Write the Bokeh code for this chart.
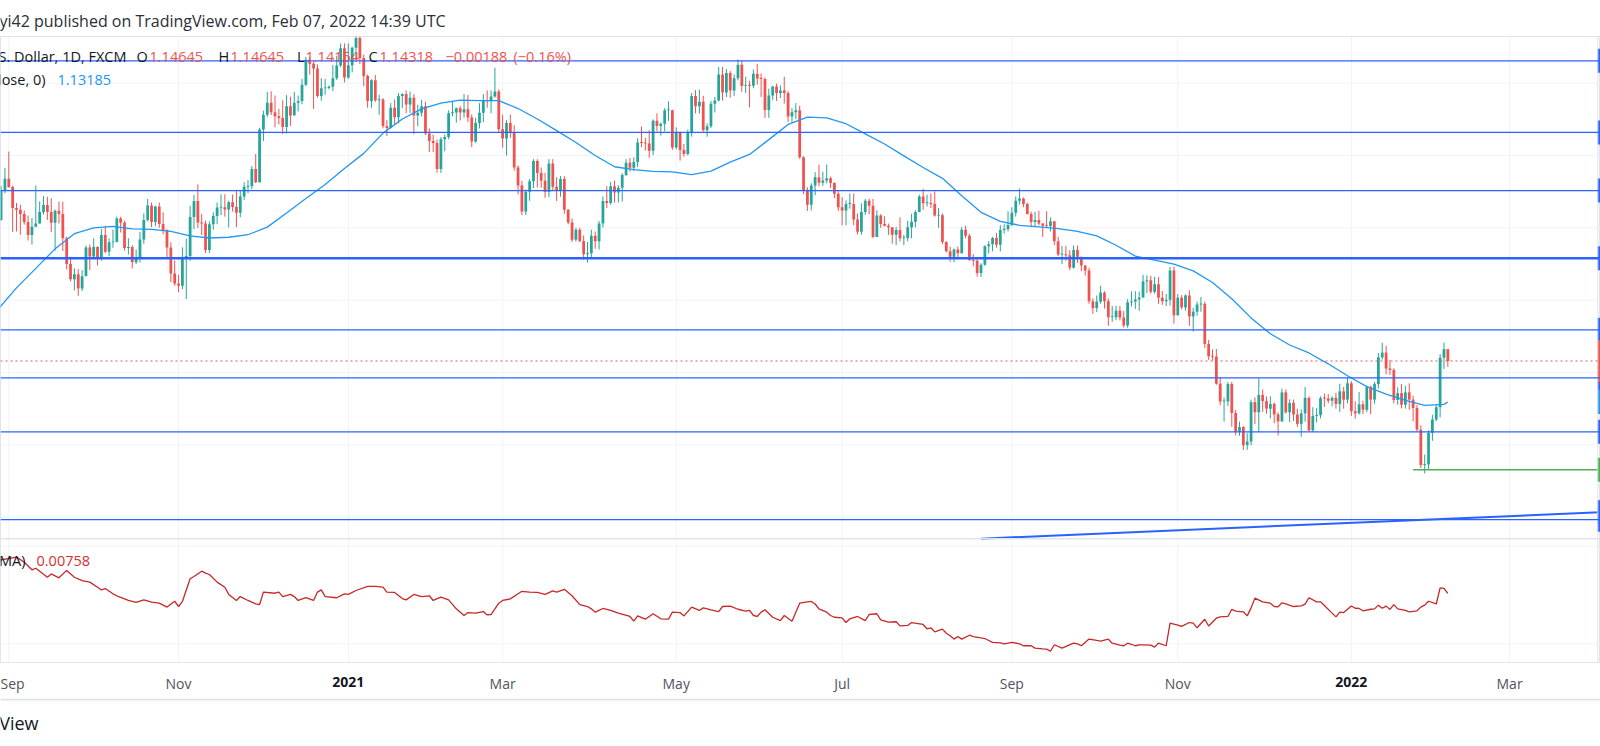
import pandas as pd
from bokeh.plotting import figure
from bokeh.models import Range1d, LinearAxis, FixedTicker, Span, Label, ColumnDataSource
from bokeh.layouts import column
from bokeh.embed import file_html
from bokeh.resources import INLINE

FONT = "Open Sans"

# ---------------- data (EUR/USD daily, FXCM) ----------------
first_date = "2020-08-27"
last_date = "2022-02-07"
missing_days = ["2021-01-01"]     # no bar on this weekday
first_open = 1.1825

close = [
    # 2020-08
    1.1822, 1.1904, 1.1936,
    # 2020-09
    1.1913, 1.1855, 1.1850, 1.1838, 1.1816, 1.1780, 1.1803, 1.1812, 1.1844, 1.1863, 1.1844,
    1.1814, 1.1847, 1.1838, 1.1771, 1.1700, 1.1658, 1.1672, 1.1632, 1.1666, 1.1746, 1.1721,
    # 2020-10
    1.1747, 1.1715, 1.1780, 1.1734, 1.1760, 1.1761, 1.1826, 1.1814, 1.1744, 1.1747, 1.1705,
    1.1718, 1.1768, 1.1822, 1.1862, 1.1816, 1.1859, 1.1811, 1.1794, 1.1746, 1.1674, 1.1646,
    # 2020-11
    1.1640, 1.1715, 1.1722, 1.1830, 1.1874, 1.1815, 1.1812, 1.1739, 1.1810, 1.1833, 1.1856,
    1.1857, 1.1851, 1.1871, 1.1858, 1.1842, 1.1887, 1.1914, 1.1915, 1.1963, 1.1926,
    # 2020-12
    1.2072, 1.2113, 1.2146, 1.2120, 1.2109, 1.2104, 1.2079, 1.2136, 1.2111, 1.2146, 1.2151,
    1.2196, 1.2265, 1.2254, 1.2241, 1.2165, 1.2186, 1.2187, 1.2190, 1.2214, 1.2249, 1.2297, 1.2216,
    # 2021-01
    1.2250, 1.2298, 1.2325, 1.2270, 1.2220, 1.2151, 1.2208, 1.2153, 1.2155, 1.2082,
    1.2076, 1.2132, 1.2106, 1.2165, 1.2170, 1.2141, 1.2160, 1.2111, 1.2118, 1.2136,
    # 2021-02
    1.2061, 1.2040, 1.2035, 1.1963, 1.2045, 1.2051, 1.2117, 1.2119, 1.2131, 1.2119,
    1.2128, 1.2105, 1.2039, 1.2090, 1.2118, 1.2153, 1.2150, 1.2163, 1.2177, 1.2073,
    # 2021-03
    1.2047, 1.2090, 1.2064, 1.1967, 1.1917, 1.1845, 1.1900, 1.1929, 1.1985, 1.1952, 1.1930,
    1.1899, 1.1978, 1.1914, 1.1904, 1.1935, 1.1850, 1.1815, 1.1767, 1.1795, 1.1764, 1.1727, 1.1730,
    # 2021-04
    1.1778, 1.1763, 1.1812, 1.1874, 1.1869, 1.1915, 1.1898, 1.1911, 1.1946, 1.1980, 1.1966,
    1.1982, 1.2036, 1.2035, 1.2033, 1.2013, 1.2096, 1.2082, 1.2088, 1.2125, 1.2125, 1.2022,
    # 2021-05
    1.2062, 1.2015, 1.2004, 1.2064, 1.2165, 1.2136, 1.2149, 1.2070, 1.2081, 1.2143, 1.2152,
    1.2224, 1.2174, 1.2228, 1.2180, 1.2214, 1.2251, 1.2192, 1.2194, 1.2193, 1.2226,
    # 2021-06
    1.2213, 1.2212, 1.2126, 1.2166, 1.2191, 1.2173, 1.2180, 1.2173, 1.2108, 1.2120, 1.2125,
    1.1995, 1.1905, 1.1864, 1.1917, 1.1940, 1.1925, 1.1931, 1.1937, 1.1924, 1.1894, 1.1857,
    # 2021-07
    1.1848, 1.1866, 1.1866, 1.1823, 1.1789, 1.1844, 1.1875, 1.1861, 1.1775, 1.1834, 1.1811,
    1.1806, 1.1802, 1.1781, 1.1794, 1.1771, 1.1772, 1.1802, 1.1817, 1.1844, 1.1887, 1.1868,
    # 2021-08
    1.1869, 1.1866, 1.1834, 1.1835, 1.1761, 1.1735, 1.1720, 1.1740, 1.1730, 1.1795, 1.1778,
    1.1711, 1.1709, 1.1675, 1.1698, 1.1749, 1.1755, 1.1772, 1.1753, 1.1794, 1.1797, 1.1808,
    # 2021-09
    1.1842, 1.1875, 1.1881, 1.1866, 1.1838, 1.1816, 1.1822, 1.1812, 1.1806, 1.1805, 1.1818,
    1.1763, 1.1726, 1.1727, 1.1724, 1.1690, 1.1739, 1.1720, 1.1696, 1.1682, 1.1597, 1.1578,
    # 2021-10
    1.1596, 1.1621, 1.1597, 1.1553, 1.1553, 1.1571, 1.1552, 1.1530, 1.1594, 1.1596, 1.1602,
    1.1607, 1.1652, 1.1655, 1.1623, 1.1644, 1.1607, 1.1597, 1.1601, 1.1682, 1.1558,
    # 2021-11
    1.1607, 1.1580, 1.1613, 1.1555, 1.1568, 1.1588, 1.1590, 1.1479, 1.1445, 1.1444, 1.1369,
    1.1320, 1.1320, 1.1368, 1.1288, 1.1236, 1.1249, 1.1199, 1.1209, 1.1318, 1.1290, 1.1338,
    # 2021-12
    1.1321, 1.1300, 1.1313, 1.1284, 1.1265, 1.1345, 1.1290, 1.1316, 1.1284, 1.1258, 1.1287,
    1.1330, 1.1240, 1.1280, 1.1282, 1.1329, 1.1328, 1.1322, 1.1330, 1.1313, 1.1348, 1.1325, 1.1370,
    # 2022-01
    1.1293, 1.1287, 1.1312, 1.1297, 1.1360, 1.1325, 1.1368, 1.1442, 1.1455, 1.1411, 1.1407,
    1.1324, 1.1343, 1.1311, 1.1345, 1.1325, 1.1302, 1.1242, 1.1144, 1.1146, 1.1233,
    # 2022-02
    1.1270, 1.1304, 1.1441, 1.14645, 1.14318,
]

high = [
    # 2020-08
    1.1902, 1.1916, 1.1966,
    # 2020-09
    1.2011, 1.1917, 1.1869, 1.1864, 1.1848, 1.1834, 1.1827, 1.1917, 1.1873, 1.1888, 1.1886,
    1.1882, 1.1851, 1.1873, 1.1872, 1.1776, 1.1720, 1.1688, 1.1686, 1.1683, 1.1751, 1.1754,
    # 2020-10
    1.1771, 1.1749, 1.1797, 1.1806, 1.1771, 1.1795, 1.1831, 1.1831, 1.1820, 1.1771, 1.1752,
    1.1740, 1.1789, 1.1840, 1.1880, 1.1870, 1.1861, 1.1870, 1.1843, 1.1796, 1.1760, 1.1710,
    # 2020-11
    1.1670, 1.1746, 1.1770, 1.1861, 1.1891, 1.1920, 1.1838, 1.1820, 1.1818, 1.1843, 1.1870,
    1.1893, 1.1893, 1.1875, 1.1892, 1.1905, 1.1903, 1.1926, 1.1932, 1.1971, 1.2004,
    # 2020-12
    1.2077, 1.2124, 1.2176, 1.2178, 1.2166, 1.2129, 1.2153, 1.2167, 1.2163, 1.2176, 1.2166,
    1.2212, 1.2273, 1.2273, 1.2259, 1.2252, 1.2214, 1.2212, 1.2194, 1.2250, 1.2276, 1.2310, 1.2310,
    # 2021-01
    1.2310, 1.2301, 1.2349, 1.2340, 1.2279, 1.2224, 1.2211, 1.2223, 1.2168, 1.2159,
    1.2098, 1.2145, 1.2155, 1.2173, 1.2172, 1.2180, 1.2177, 1.2170, 1.2140, 1.2154,
    # 2021-02
    1.2149, 1.2075, 1.2058, 1.2044, 1.2051, 1.2058, 1.2125, 1.2150, 1.2133, 1.2137,
    1.2170, 1.2168, 1.2114, 1.2104, 1.2145, 1.2170, 1.2180, 1.2180, 1.2243, 1.2183,
    # 2021-03
    1.2113, 1.2098, 1.2113, 1.2084, 1.1973, 1.1930, 1.1906, 1.1935, 1.1990, 1.1990, 1.1967,
    1.1952, 1.1990, 1.1990, 1.1940, 1.1943, 1.1943, 1.1852, 1.1826, 1.1800, 1.1800, 1.1779, 1.1761,
    # 2021-04
    1.1795, 1.1790, 1.1819, 1.1887, 1.1915, 1.1927, 1.1931, 1.1918, 1.1951, 1.1990, 1.1993,
    1.1995, 1.2048, 1.2080, 1.2049, 1.2070, 1.2100, 1.2117, 1.2091, 1.2131, 1.2150, 1.2127,
    # 2021-05
    1.2078, 1.2066, 1.2032, 1.2072, 1.2173, 1.2181, 1.2182, 1.2165, 1.2089, 1.2151, 1.2162,
    1.2245, 1.2245, 1.2239, 1.2234, 1.2224, 1.2266, 1.2262, 1.2218, 1.2207, 1.2238,
    # 2021-06
    1.2254, 1.2227, 1.2216, 1.2185, 1.2193, 1.2199, 1.2194, 1.2218, 1.2178, 1.2131, 1.2145,
    1.2138, 1.1998, 1.1912, 1.1923, 1.1954, 1.1975, 1.1955, 1.1975, 1.1942, 1.1926, 1.1903,
    # 2021-07
    1.1885, 1.1876, 1.1895, 1.1895, 1.1840, 1.1868, 1.1880, 1.1880, 1.1880, 1.1849, 1.1838,
    1.1832, 1.1812, 1.1802, 1.1803, 1.1829, 1.1781, 1.1820, 1.1839, 1.1849, 1.1892, 1.1908,
    # 2021-08
    1.1892, 1.1895, 1.1901, 1.1855, 1.1840, 1.1763, 1.1748, 1.1743, 1.1748, 1.1802, 1.1806,
    1.1783, 1.1727, 1.1715, 1.1702, 1.1752, 1.1763, 1.1775, 1.1786, 1.1808, 1.1810, 1.1846,
    # 2021-09
    1.1857, 1.1887, 1.1909, 1.1884, 1.1870, 1.1845, 1.1844, 1.1847, 1.1813, 1.1846, 1.1829,
    1.1818, 1.1775, 1.1750, 1.1750, 1.1738, 1.1751, 1.1751, 1.1720, 1.1697, 1.1690, 1.1605,
    # 2021-10
    1.1613, 1.1640, 1.1625, 1.1605, 1.1584, 1.1584, 1.1584, 1.1570, 1.1603, 1.1624, 1.1625,
    1.1624, 1.1670, 1.1669, 1.1667, 1.1665, 1.1664, 1.1625, 1.1617, 1.1692, 1.1693,
    # 2021-11
    1.1617, 1.1614, 1.1616, 1.1627, 1.1579, 1.1596, 1.1609, 1.1596, 1.1490, 1.1464, 1.1465,
    1.1387, 1.1331, 1.1374, 1.1374, 1.1296, 1.1264, 1.1252, 1.1232, 1.1325, 1.1331, 1.1383,
    # 2021-12
    1.1353, 1.1334, 1.1334, 1.1317, 1.1290, 1.1355, 1.1353, 1.1326, 1.1325, 1.1300, 1.1298,
    1.1360, 1.1334, 1.1304, 1.1302, 1.1334, 1.1342, 1.1340, 1.1334, 1.1344, 1.1369, 1.1360, 1.1386,
    # 2022-01
    1.1376, 1.1320, 1.1346, 1.1322, 1.1363, 1.1364, 1.1374, 1.1454, 1.1482, 1.1474, 1.1434,
    1.1412, 1.1359, 1.1368, 1.1363, 1.1370, 1.1336, 1.1310, 1.1254, 1.1173, 1.1240,
    # 2022-02
    1.1283, 1.1310, 1.1451, 1.1483, 1.14645,
]

low = [
    # 2020-08
    1.1762, 1.1820, 1.1896,
    # 2020-09
    1.1911, 1.1789, 1.1790, 1.1781, 1.1809, 1.1765, 1.1754, 1.1802, 1.1812, 1.1837, 1.1822,
    1.1788, 1.1737, 1.1812, 1.1736, 1.1685, 1.1652, 1.1627, 1.1612, 1.1625, 1.1667, 1.1683,
    # 2020-10
    1.1717, 1.1696, 1.1709, 1.1730, 1.1722, 1.1745, 1.1760, 1.1787, 1.1737, 1.1726, 1.1688,
    1.1700, 1.1704, 1.1756, 1.1818, 1.1802, 1.1804, 1.1800, 1.1782, 1.1717, 1.1650, 1.1640,
    # 2020-11
    1.1622, 1.1630, 1.1603, 1.1709, 1.1797, 1.1800, 1.1780, 1.1730, 1.1730, 1.1795, 1.1810,
    1.1835, 1.1831, 1.1801, 1.1845, 1.1802, 1.1829, 1.1877, 1.1896, 1.1907, 1.1924,
    # 2020-12
    1.1925, 1.2040, 1.2107, 1.2112, 1.2078, 1.2086, 1.2059, 1.2061, 1.2082, 1.2114, 1.2122,
    1.2142, 1.2192, 1.2224, 1.2129, 1.2160, 1.2152, 1.2168, 1.2183, 1.2178, 1.2209, 1.2244, 1.2202,
    # 2021-01
    1.2212, 1.2230, 1.2265, 1.2253, 1.2192, 1.2132, 1.2132, 1.2148, 1.2113, 1.2075,
    1.2054, 1.2075, 1.2085, 1.2089, 1.2131, 1.2117, 1.2118, 1.2059, 1.2081, 1.2108,
    # 2021-02
    1.2057, 1.2010, 1.2010, 1.1953, 1.1952, 1.2012, 1.2045, 1.2108, 1.2091, 1.2097,
    1.2105, 1.2093, 1.2023, 1.2035, 1.2075, 1.2092, 1.2132, 1.2117, 1.2160, 1.2062,
    # 2021-03
    1.2022, 1.2000, 1.2049, 1.1958, 1.1893, 1.1835, 1.1836, 1.1875, 1.1910, 1.1912, 1.1911,
    1.1883, 1.1885, 1.1905, 1.1874, 1.1886, 1.1839, 1.1810, 1.1761, 1.1762, 1.1760, 1.1712, 1.1704,
    # 2021-04
    1.1718, 1.1742, 1.1740, 1.1801, 1.1855, 1.1864, 1.1870, 1.1870, 1.1873, 1.1943, 1.1955,
    1.1957, 1.1968, 1.2023, 1.2014, 1.1994, 1.2001, 1.2067, 1.2055, 1.2067, 1.2096, 1.2016,
    # 2021-05
    1.2017, 1.1986, 1.1997, 1.2000, 1.2052, 1.2117, 1.2116, 1.2066, 1.2052, 1.2076, 1.2119,
    1.2150, 1.2152, 1.2162, 1.2160, 1.2165, 1.2208, 1.2176, 1.2173, 1.2133, 1.2186,
    # 2021-06
    1.2196, 1.2162, 1.2104, 1.2104, 1.2153, 1.2151, 1.2159, 1.2144, 1.2093, 1.2092, 1.2101,
    1.1991, 1.1893, 1.1847, 1.1848, 1.1890, 1.1915, 1.1916, 1.1923, 1.1910, 1.1882, 1.1847,
    # 2021-07
    1.1807, 1.1807, 1.1853, 1.1807, 1.1782, 1.1781, 1.1836, 1.1838, 1.1772, 1.1779, 1.1800,
    1.1804, 1.1780, 1.1756, 1.1752, 1.1762, 1.1752, 1.1763, 1.1771, 1.1801, 1.1843, 1.1850,
    # 2021-08
    1.1859, 1.1855, 1.1831, 1.1800, 1.1755, 1.1732, 1.1706, 1.1705, 1.1716, 1.1729, 1.1771,
    1.1709, 1.1694, 1.1665, 1.1664, 1.1695, 1.1729, 1.1735, 1.1745, 1.1735, 1.1784, 1.1790,
    # 2021-09
    1.1805, 1.1831, 1.1864, 1.1857, 1.1837, 1.1802, 1.1803, 1.1807, 1.1775, 1.1800, 1.1790,
    1.1752, 1.1722, 1.1700, 1.1709, 1.1683, 1.1687, 1.1703, 1.1680, 1.1668, 1.1590, 1.1562,
    # 2021-10
    1.1567, 1.1590, 1.1577, 1.1529, 1.1540, 1.1545, 1.1544, 1.1524, 1.1524, 1.1583, 1.1576,
    1.1571, 1.1609, 1.1619, 1.1618, 1.1618, 1.1590, 1.1587, 1.1584, 1.1585, 1.1535,
    # 2021-11
    1.1558, 1.1574, 1.1571, 1.1529, 1.1513, 1.1557, 1.1568, 1.1468, 1.1435, 1.1433, 1.1366,
    1.1309, 1.1264, 1.1307, 1.1250, 1.1226, 1.1225, 1.1186, 1.1186, 1.1199, 1.1257, 1.1235,
    # 2021-12
    1.1291, 1.1286, 1.1273, 1.1260, 1.1226, 1.1263, 1.1286, 1.1263, 1.1266, 1.1250, 1.1222,
    1.1264, 1.1236, 1.1235, 1.1262, 1.1273, 1.1305, 1.1315, 1.1306, 1.1300, 1.1291, 1.1300, 1.1315,
    # 2022-01
    1.1280, 1.1272, 1.1284, 1.1285, 1.1290, 1.1285, 1.1314, 1.1356, 1.1436, 1.1395, 1.1393,
    1.1315, 1.1311, 1.1301, 1.1300, 1.1297, 1.1265, 1.1236, 1.1136, 1.1121, 1.1132,
    # 2022-02
    1.1211, 1.1265, 1.1276, 1.1410, 1.14154,
]

# 50-period moving average, read every 5 bars starting 3 bars before 2020-09-01
ma_start_offset = -3
ma_step = 5
ma_values = [
    1.1572, 1.1634, 1.1688, 1.1742, 1.1784, 1.1800, 1.1804, 1.1797, 1.1796, 1.1790,
    1.1778, 1.1772, 1.1774, 1.1781, 1.1802, 1.1841, 1.1881, 1.1920, 1.1964, 1.2006,
    1.2062, 1.2101, 1.2129, 1.2145, 1.2153, 1.2152, 1.2152, 1.2130, 1.2101, 1.2069,
    1.2036, 1.2000, 1.1969, 1.1961, 1.1956, 1.1955, 1.1947, 1.1957, 1.1982, 1.2003,
    1.2044, 1.2086, 1.2106, 1.2104, 1.2088, 1.2060, 1.2032, 1.1999, 1.1967, 1.1937,
    1.1889, 1.1843, 1.1818, 1.1807, 1.1803, 1.1798, 1.1790, 1.1778, 1.1752, 1.1722,
    1.1711, 1.1700, 1.1681, 1.1649, 1.1604, 1.1551, 1.1507, 1.1476, 1.1454, 1.1424,
    1.1391, 1.1361, 1.1340, 1.1323, 1.1309, 1.1312,
]
ma_last = 1.13185

# ATR (14, RMA): bars counted from 2020-09-01, and values
atr_bars = [
    -3, -2, 2, 4, 6, 7, 10, 11, 13, 15, 17, 19, 21, 23, 24, 25, 27, 28, 30, 31, 33, 35, 37, 39,
    41, 43, 44, 45, 47, 48, 50, 51, 52, 54, 56, 57, 59, 60, 62, 64, 65, 66, 69, 70, 71, 73, 74,
    75, 77, 79, 80, 81, 82, 85, 87, 88, 90, 93, 95, 97, 98, 100, 102, 103, 105, 107, 109, 110,
    112, 114, 116, 118, 119, 121, 123, 124, 125, 127, 128, 130, 132, 133, 135, 137, 139, 141,
    142, 144, 146, 148, 150, 151, 152, 154, 156, 158, 161, 162, 163, 165, 167, 169, 171, 172,
    174, 175, 177, 179, 180, 182, 184, 185, 187, 189, 191, 192, 193, 194, 195, 196, 198, 200,
    201, 203, 205, 207, 208, 209, 210, 212, 213, 214, 216, 217, 218, 220, 222, 223, 225, 226,
    228, 230, 231, 233, 234, 237, 238, 239, 240, 242, 243, 244, 245, 246, 247, 249, 250, 252,
    253, 254, 255, 257, 258, 260, 262, 263, 265, 266, 268, 269, 270, 271, 273, 276, 277, 278,
    280, 282, 283, 285, 286, 288, 289, 290, 292, 293, 294, 296, 297, 298, 300, 301, 303, 304,
    306, 307, 308, 310, 311, 313, 314, 316, 317, 318, 320, 321, 322, 323, 325, 327, 328, 329,
    330, 331, 333, 335, 336, 337, 339, 340, 341, 343, 344, 345, 346, 348, 349, 350, 351, 353,
    354, 355, 356, 357, 358, 359, 360, 362, 363, 365, 366, 367, 368, 370, 371, 372, 373,
]
atr_values = [
    0.00925, 0.00930, 0.00944, 0.00918, 0.00879, 0.00887, 0.00841, 0.00858, 0.00838, 0.00876,
    0.00841, 0.00824, 0.00816, 0.00790, 0.00776, 0.00783, 0.00756, 0.00746, 0.00730, 0.00722,
    0.00712, 0.00725, 0.00713, 0.00708, 0.00688, 0.00718, 0.00691, 0.00717, 0.00833, 0.00845,
    0.00872, 0.00862, 0.00855, 0.00816, 0.00790, 0.00753, 0.00722, 0.00742, 0.00722, 0.00705,
    0.00701, 0.00765, 0.00759, 0.00765, 0.00742, 0.00753, 0.00742, 0.00722, 0.00736, 0.00722,
    0.00765, 0.00776, 0.00742, 0.00736, 0.00756, 0.00753, 0.00773, 0.00794, 0.00794, 0.00790,
    0.00765, 0.00763, 0.00732, 0.00725, 0.00753, 0.00742, 0.00746, 0.00722, 0.00739, 0.00725,
    0.00679, 0.00645, 0.00660, 0.00657, 0.00665, 0.00648, 0.00650, 0.00708, 0.00722, 0.00730,
    0.00756, 0.00769, 0.00765, 0.00763, 0.00753, 0.00771, 0.00765, 0.00779, 0.00746, 0.00701,
    0.00691, 0.00679, 0.00662, 0.00681, 0.00671, 0.00657, 0.00640, 0.00616, 0.00643, 0.00626,
    0.00654, 0.00628, 0.00626, 0.00662, 0.00660, 0.00643, 0.00688, 0.00671, 0.00684, 0.00674,
    0.00665, 0.00691, 0.00693, 0.00677, 0.00667, 0.00671, 0.00645, 0.00640, 0.00662, 0.00674,
    0.00636, 0.00619, 0.00645, 0.00616, 0.00708, 0.00715, 0.00717, 0.00704, 0.00679, 0.00662,
    0.00645, 0.00636, 0.00633, 0.00609, 0.00628, 0.00640, 0.00619, 0.00650, 0.00654, 0.00623,
    0.00611, 0.00613, 0.00592, 0.00594, 0.00609, 0.00599, 0.00577, 0.00582, 0.00561, 0.00575,
    0.00554, 0.00541, 0.00524, 0.00537, 0.00524, 0.00544, 0.00537, 0.00530, 0.00527, 0.00517,
    0.00507, 0.00505, 0.00500, 0.00507, 0.00500, 0.00490, 0.00490, 0.00478, 0.00474, 0.00473,
    0.00462, 0.00495, 0.00478, 0.00503, 0.00500, 0.00490, 0.00524, 0.00517, 0.00514, 0.00524,
    0.00503, 0.00493, 0.00490, 0.00503, 0.00490, 0.00495, 0.00495, 0.00493, 0.00483, 0.00503,
    0.00490, 0.00606, 0.00596, 0.00589, 0.00609, 0.00606, 0.00582, 0.00626, 0.00591, 0.00631,
    0.00638, 0.00640, 0.00677, 0.00667, 0.00664, 0.00643, 0.00684, 0.00734, 0.00715, 0.00708,
    0.00691, 0.00689, 0.00710, 0.00704, 0.00691, 0.00694, 0.00703, 0.00736, 0.00715, 0.00715,
    0.00696, 0.00657, 0.00638, 0.00662, 0.00660, 0.00694, 0.00682, 0.00681, 0.00669, 0.00677,
    0.00679, 0.00698, 0.00682, 0.00693, 0.00676, 0.00701, 0.00679, 0.00671, 0.00664, 0.00669,
    0.00688, 0.00698, 0.00718, 0.00704, 0.00787, 0.00784, 0.00758,
]

# drawings
h_levels = [1.2262, 1.2064, 1.1903, 1.1518, 1.1385, 1.1236, 1.0993]
h_level_bold = 1.1716
green_level = 1.1131
green_start = "2022-01-25"
trend_bars = [252, 413]          # bars counted from 2020-09-01
trend_prices = [1.09404, 1.10138]

price_grid = [1.10, 1.12, 1.14, 1.16, 1.18, 1.20, 1.22]
atr_grid = [0.005, 0.010]

tick_months = ["2020-09", "2020-11", "2021-01", "2021-03", "2021-05",
               "2021-07", "2021-09", "2021-11", "2022-01", "2022-03"]
tick_labels = ["Sep", "Nov", "2021", "Mar", "May", "Jul", "Sep", "Nov", "2022", "Mar"]

# ---------------- derived ----------------
skip = set(pd.to_datetime(missing_days))
dates = [d for d in pd.bdate_range(first_date, last_date) if d not in skip]
assert len(dates) == len(close) == len(high) == len(low), (len(dates), len(close), len(high), len(low))
n = len(close)
opens = [first_open] + close[:-1]
xs = list(range(n))
SEP1 = dates.index(pd.Timestamp("2020-09-01"))

up_c, dn_c = "#26a69a", "#ef5350"
colors = [up_c if c >= o else dn_c for o, c in zip(opens, close)]
tops = [max(o, c) for o, c in zip(opens, close)]
bots = [min(o, c) for o, c in zip(opens, close)]
tops = [t if t - b > 0.00025 else b + 0.00025 for t, b in zip(tops, bots)]
src = ColumnDataSource(dict(x=xs, high=high, low=low, top=tops, bottom=bots, color=colors))

all_days = [d for d in pd.bdate_range(first_date, "2022-03-31") if d not in skip]
first_of_month = {}
for i, d in enumerate(all_days):
    first_of_month.setdefault(d.strftime("%Y-%m"), i)
tick_pos = [first_of_month[m] for m in tick_months]
month_ticks = [(t, l) for t, l in zip(tick_pos, tick_labels) if not l.isdigit()]
year_ticks = [(t, l) for t, l in zip(tick_pos, tick_labels) if l.isdigit()]

ma_x = [SEP1 + ma_start_offset + ma_step * i for i in range(len(ma_values))] + [n - 1]
ma_y = ma_values + [ma_last]
atr_x = [SEP1 + b for b in atr_bars]
green_x = dates.index(pd.Timestamp(green_start))

# ---------------- layout geometry ----------------
W = 1600
HEAD_H = 36         # header band
FRAME_H = 626       # price pane + ATR pane
AXIS_H = 36
FOOT_H = 48
BAR_PX = 3.858
x0 = SEP1 - 8.3 / BAR_PX
x1 = x0 + W / BAR_PX
PX_PER_PRICE = 3616.0
price_top = 1.14 + 336 / PX_PER_PRICE
price_bot = 1.14 - 290 / PX_PER_PRICE
pane_sep = 1.14 - 166.3 / PX_PER_PRICE
x_axis_edge = x0 + 1597.3 / BAR_PX
x_tag = x0 + 1599.0 / BAR_PX

DARK = "#131722"
RED = "#ef5350"
BLUE = "#2962ff"
GRID = "#f0f3fa"

# header
hdr = figure(width=W, height=HEAD_H, x_range=Range1d(0, W), y_range=Range1d(HEAD_H, 0),
             x_axis_type=None, y_axis_type=None, toolbar_location=None, output_backend="svg",
             min_border=0)
hdr.outline_line_color = None
hdr.background_fill_color = "white"
hdr.border_fill_color = "white"
hdr.add_layout(Label(x=-1, y=20.7, text="yi42 published on TradingView.com, Feb 07, 2022 14:39 UTC",
                     text_align="left", text_baseline="middle", text_font=FONT,
                     text_font_size="16px", text_color="#2a2e39"))

# main chart (price pane on top, ATR pane below)
p = figure(width=W, height=FRAME_H + AXIS_H,
           x_range=Range1d(x0, x1), y_range=Range1d(price_bot, price_top),
           x_axis_type=None, y_axis_type=None, toolbar_location=None,
           output_backend="svg", min_border_left=0, min_border_right=0,
           min_border_top=0, min_border_bottom=AXIS_H)
p.outline_line_color = "#e0e3eb"
p.background_fill_color = "white"
p.border_fill_color = "white"
p.extra_y_ranges = {"atr": Range1d(0.004042, 0.036112)}

for lvl in price_grid:
    p.add_layout(Span(location=lvl, dimension="width", line_color=GRID, line_width=1, level="underlay"))
for lvl in atr_grid:
    p.add_layout(Span(location=lvl, dimension="width", y_range_name="atr",
                      line_color=GRID, line_width=1, level="underlay"))
for t in tick_pos:
    p.add_layout(Span(location=t, dimension="height", line_color=GRID, line_width=1, level="underlay"))
p.add_layout(Span(location=pane_sep, dimension="width", line_color="#e0e3eb", line_width=1.5))
p.add_layout(Span(location=x_axis_edge, dimension="height", line_color="#e0e3eb", line_width=1))

# candles
p.segment(x0="x", y0="low", x1="x", y1="high", line_color="color", line_width=1, source=src)
p.vbar(x="x", width=0.72, top="top", bottom="bottom", fill_color="color", line_color=None, source=src)

# moving average
p.line(ma_x, ma_y, line_color="#2196f3", line_width=1.3)

# drawings
for lvl in h_levels:
    p.add_layout(Span(location=lvl, dimension="width", line_color=BLUE, line_width=1.2))
p.add_layout(Span(location=h_level_bold, dimension="width", line_color=BLUE, line_width=2.4))
p.add_layout(Span(location=close[-1], dimension="width", line_color=RED,
                  line_width=1, line_dash="2 3"))
p.ray(x=[green_x], y=[green_level], length=0, angle=0, line_color="#4caf50", line_width=1.5)
p.line([SEP1 + b for b in trend_bars], trend_prices, line_color=BLUE, line_width=2)

# price-scale tags peeking at the right edge
tag_levels = h_levels + [h_level_bold, trend_prices[-1]]
p.rect(x=[x_tag] * len(tag_levels), y=tag_levels, width=4, height=24,
       width_units="screen", height_units="screen", fill_color=BLUE, line_color=None)
p.rect(x=[x_tag], y=[green_level], width=4, height=24, width_units="screen",
       height_units="screen", fill_color="#4caf50", line_color=None)
p.rect(x=[x_tag], y=[ma_last], width=4, height=24, width_units="screen",
       height_units="screen", fill_color="#2196f3", line_color=None)
p.rect(x=[x_tag], y=[close[-1]], width=4, height=42, width_units="screen",
       height_units="screen", fill_color=RED, line_color=None)

# ATR
p.line(atr_x, atr_values, y_range_name="atr", line_color="#c62828", line_width=1.3)

# time axis: months (regular) and years (bold)
ax_m = LinearAxis(ticker=FixedTicker(ticks=[t for t, _ in month_ticks]),
                  major_label_overrides={t: l for t, l in month_ticks})
ax_y = LinearAxis(ticker=FixedTicker(ticks=[t for t, _ in year_ticks]),
                  major_label_overrides={t: l for t, l in year_ticks})
for ax in (ax_m, ax_y):
    ax.axis_line_color = None
    ax.major_tick_line_color = None
    ax.minor_tick_line_color = None
    ax.major_tick_out = 0
    ax.major_tick_in = 0
    ax.major_label_text_font = FONT
    ax.major_label_text_font_size = "14px"
ax_m.major_label_standoff = 11
ax_m.major_label_text_color = "#50535e"
ax_y.major_label_standoff = -19
ax_y.major_label_text_color = DARK
ax_y.major_label_text_font_style = "bold"
p.add_layout(ax_m, "below")
p.add_layout(ax_y, "below")


def lab(text, x, y_ref, color, align="left", size="14.5px"):
    # x: px from the left edge, y_ref: px from the top of the page
    p.add_layout(Label(x=x, y=(HEAD_H + FRAME_H) - y_ref, x_units="screen", y_units="screen",
                       text=text, text_color=color, text_font=FONT, text_font_size=size,
                       text_align=align, text_baseline="middle"))


LY1, LY2 = 56.3, 79
lab("EUR/U.S. Dollar, 1D, FXCM", 126, LY1, DARK, align="right")
lab("O", 136, LY1, DARK)
lab("1.14645", 149, LY1, RED)
lab("H", 218, LY1, DARK)
lab("1.14645", 230, LY1, RED)
lab("L", 296.5, LY1, DARK)
lab("1.14154", 305, LY1, RED)
lab("C", 368, LY1, DARK)
lab("1.14318", 379, LY1, RED)
lab("\u22120.00188", 445, LY1, RED)
lab("(\u22120.16%)", 513, LY1, RED)
lab("MA (50, close, 0)", 45, LY2, DARK, align="right")
lab("1.13185", 57, LY2, "#2196f3")
lab("ATR (14, RMA)", 25, 560, DARK, align="right")
lab("0.00758", 36, 560, "#d32f2f")

# footer
f = figure(width=W, height=FOOT_H, x_range=Range1d(0, W), y_range=Range1d(FOOT_H, 0),
           x_axis_type=None, y_axis_type=None, toolbar_location=None, output_backend="svg",
           min_border=0)
f.outline_line_color = None
f.background_fill_color = "white"
f.border_fill_color = "white"
f.add_layout(Span(location=1, dimension="width", line_color="#e0e3eb", line_width=2))
f.add_layout(Label(x=38, y=24, text="TradingView", text_align="right", text_baseline="middle",
                   text_font=FONT, text_font_size="18px", text_color=DARK))

layout = column(hdr, p, f, spacing=0)
open("out.html", "w").write(file_html(layout, INLINE))
